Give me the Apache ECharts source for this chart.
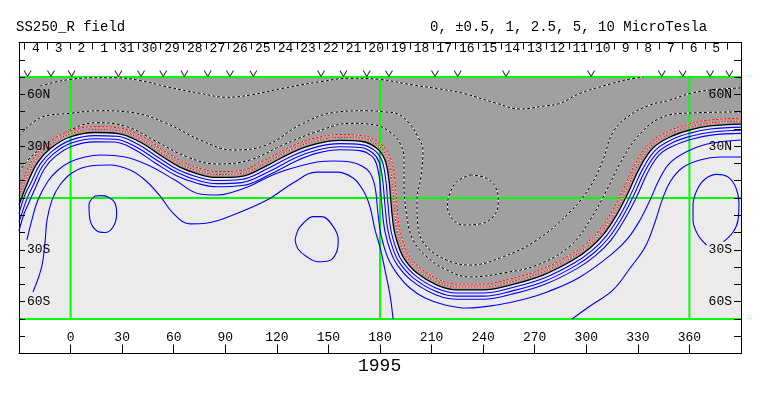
<!DOCTYPE html>
<html lang="en">
<head>
<meta charset="UTF-8">
<title>SS250_R field</title>
<script src="https://cdn.jsdelivr.net/npm/echarts@6/dist/echarts.min.js"></script>
<style>html,body{margin:0;background:#fff}</style>
</head>
<body>
<div id="main" style="width:763px;height:396px"></div>
<script>
// plot bounds (carrington longitude, latitude)
var lonMin = -30, lonMax = 390, latMin = -70, latMax = 70;
var gridLons = [0, 180, 360];
var gridLats = [-70, 0, 70];

// day strip along the top (Nov 4 .. Oct 5, decreasing to the right)
var dayLabels = [4, 3, 2, 1, 31, 30, 29, 28, 27, 26, 25, 24, 23, 22, 21, 20, 19, 18, 17, 16, 15, 14, 13, 12, 11, 10, 9, 8, 7, 6, 5];
var dayStart = -20.1, dayStep = 13.19;

// observation marks
var vLons = [-25.0, -11.4, 0.6, 27.8, 41.0, 53.9, 66.2, 79.8, 92.7, 106.3, 145.7, 158.7, 172.3, 185.2, 212.0, 225.2, 253.3, 302.8, 343.9, 356.1, 372.0, 383.2];
var vLat = 72.1;

// neutral line (0)
var neutralLine = [[-30,-4.1],[-24.8,9.3],[-19.0,20.8],[-11.4,28.9],[-0.3,35.3],[14.2,37.9],[27.6,37.3],[40.4,32.4],[52.0,24.9],[63.6,17.9],[75.3,13.6],[85.2,11.9],[98.6,12.4],[113.7,18.5],[129.4,26.6],[142.8,31.3],[156.7,33.3],[169.5,32.7],[178.3,28.7],[182.9,22.0],[185.2,10.4],[186.4,-2.9],[188.2,-18.5],[191.6,-30.1],[194.6,-35.9],[201.5,-43.4],[213.2,-50.4],[224.8,-53.2],[239.9,-53.2],[255.6,-50.4],[274.8,-44.6],[292.3,-35.9],[302.2,-28.9],[310.3,-20.8],[317.9,-9.3],[324.3,2.9],[331.3,17.9],[338.8,28.9],[348.7,35.3],[360.4,39.4],[372.0,41.7],[390,42.8]];

// red contours on the negative side
var redInner = [[-30,1.5],[-26.3,10.1],[-20.2,22.0],[-12.3,30.4],[-0.6,37.0],[14.2,39.6],[28.3,38.9],[41.3,33.8],[52.9,26.4],[64.2,19.5],[75.7,15.3],[85.2,13.6],[98.2,14.1],[113.0,20.1],[128.7,28.2],[142.4,33.0],[156.7,35.0],[169.9,34.4],[179.4,30.0],[184.5,22.6],[186.9,10.6],[188.1,-2.7],[189.9,-18.2],[193.2,-29.5],[196.0,-34.9],[202.6,-42.1],[213.9,-48.8],[225.0,-51.5],[239.7,-51.5],[255.2,-48.7],[274.2,-43.0],[291.5,-34.4],[301.1,-27.6],[309.0,-19.7],[316.4,-8.5],[322.8,3.6],[329.8,18.7],[337.6,30.1],[348.0,36.8],[360.0,41.0],[371.8,43.4],[390,44.5]];
var redOuter = [[-30,5.5],[-27.8,10.8],[-21.5,23.1],[-13.1,31.9],[-1.0,38.6],[14.2,41.3],[29.0,40.4],[42.3,35.3],[53.7,27.8],[64.9,21.1],[76.1,16.9],[85.2,15.3],[97.8,15.7],[112.3,21.6],[128.0,29.7],[142.0,34.6],[156.7,36.7],[170.3,36.0],[180.4,31.3],[186.1,23.2],[188.6,10.9],[189.8,-2.6],[191.5,-17.9],[194.8,-28.9],[197.3,-33.9],[203.6,-40.7],[214.5,-47.3],[225.1,-49.8],[239.6,-49.8],[254.8,-47.1],[273.5,-41.4],[290.6,-32.9],[300.0,-26.3],[307.6,-18.7],[315.0,-7.6],[321.2,4.4],[328.3,19.6],[336.4,31.3],[347.2,38.4],[359.5,42.7],[371.6,45.1],[390,46.2]];

// blue (positive) contours
var blue1 = [[-30,-9],[-26.5,2],[-23.2,8.5],[-17.7,19.6],[-10.5,27.3],[0.1,33.5],[14.2,36.1],[26.9,35.7],[39.4,30.9],[51.1,23.4],[62.9,16.2],[74.9,11.9],[85.2,10.1],[99.0,10.7],[114.4,16.9],[130.1,24.9],[143.2,29.6],[156.7,31.5],[169.1,30.9],[177.2,27.3],[181.2,21.4],[183.4,10.2],[184.6,-3.1],[186.4,-18.8],[189.9,-30.7],[193.2,-37.0],[200.4,-44.8],[212.5,-52.1],[224.6,-55.0],[240.1,-55.0],[256.0,-52.1],[275.5,-46.3],[293.2,-37.5],[303.4,-30.3],[311.7,-21.9],[319.5,-10.2],[325.9,2.1],[332.9,17.0],[340.1,27.6],[349.5,33.7],[360.9,37.7],[372.2,39.9],[390,41.0]];
var blue2 = [[-30,-14],[-25,0.5],[-21.6,7.7],[-16.4,18.4],[-9.6,25.8],[0.4,31.8],[14.2,34.3],[26.1,34.0],[38.4,29.4],[50.2,21.8],[62.3,14.6],[74.4,10.1],[85.2,8.3],[99.4,8.9],[115.2,15.2],[130.8,23.3],[143.7,27.8],[156.7,29.7],[168.7,29.2],[176.0,25.9],[179.5,20.7],[181.6,9.9],[182.8,-3.3],[184.7,-19.2],[188.2,-31.3],[191.7,-38.0],[199.3,-46.2],[211.8,-53.7],[224.4,-56.8],[240.3,-56.8],[256.5,-53.9],[276.1,-48.0],[294.1,-39.0],[304.5,-31.7],[313.1,-23.0],[321.0,-11.1],[327.5,1.3],[334.4,16.1],[341.4,26.3],[350.3,32.1],[361.3,35.9],[372.4,38.1],[390,39.2]];
var blue3 = [[-30,-19],[-27,-9],[-23.5,-1],[-20.0,6.9],[-15.1,17.1],[-8.7,24.2],[0.8,30.0],[14.2,32.5],[25.4,32.4],[37.4,27.9],[49.2,20.3],[61.6,12.9],[74.0,8.4],[85.2,6.5],[99.8,7.2],[115.9,13.6],[131.6,21.6],[144.1,26.1],[156.7,27.9],[168.3,27.4],[174.9,24.5],[177.8,20.1],[179.9,9.6],[181.0,-3.4],[182.9,-19.5],[186.5,-31.9],[190.3,-39.1],[198.2,-47.7],[211.1,-55.4],[224.3,-58.6],[240.4,-58.6],[256.9,-55.6],[276.8,-49.6],[295.0,-40.6],[305.7,-33.1],[314.5,-24.2],[322.5,-12.0],[329.2,0.5],[336.0,15.3],[342.6,25.1],[351.1,30.4],[361.8,34.2],[372.6,36.4],[390,37.4]];
var blueWide = [[-25.4,-24.3],[-22.5,-12.7],[-19.0,-1.2],[-13.1,9.8],[-7.3,16.2],[-0.3,20.8],[8.4,23.7],[17.1,24.9],[31.7,23.7],[46.2,18.5],[60.7,10.4],[75.3,2.3],[85.2,1.7],[94.5,3.5],[104.4,6.9],[113.7,11.6],[123.6,15.6],[133.5,18.5],[143.4,20.8],[152.7,21.4],[162.6,20.8],[169.5,18.5],[174.2,14.5],[177.1,6.4],[178.8,-8.7],[180.6,-21.4],[184.6,-34.7],[190.5,-44.6],[197.4,-52.1],[206.2,-57.9],[217.8,-61.9],[230.6,-63.7],[248.1,-61.9],[264.4,-58.5],[277.2,-54.4],[296.4,-45.7],[315.6,-31.8],[324.3,-23.2],[331.3,-12.7],[337.1,-1.2],[342.3,10.4],[348.7,20.3],[359.2,27.2],[370.3,31.3],[390,33.6]];
var blueDip = [[-21.9,-54.4],[-16.8,-39.8],[-14.9,-26.0],[-13.7,-12.7],[-10.8,-1.2],[-6.2,7.5],[0.8,14.5],[11.3,18.5],[22.9,19.1],[34.6,16.2],[43.3,10.4],[52.0,1.2],[59.6,-8.7],[69.5,-15.0],[79.4,-14.5],[94.5,-9.8],[114.3,-1.2],[129.4,8.7],[143.4,15.0],[155.0,15.0],[164.3,11.6],[170.1,4.6],[174.2,-5.2],[177.1,-18.5],[180.0,-28.4],[182.9,-41.7],[185.8,-56.1],[187.6,-70]];
var blueTail = [[291.7,-70],[302.2,-62.5],[315.6,-53.2],[325.5,-40.5],[334.2,-28.4],[340.0,-13.9],[344.1,-1.2],[348.7,9.3],[355.7,17.4],[366.1,22.0],[377.7,23.7],[390,23.7]];
var ovalLeft = [[14.2,1.2],[10.7,-4.1],[11.3,-12.7],[15.4,-19.1],[20.0,-20.0],[24.7,-16.8],[26.8,-9.3],[25.8,-2.9],[21.8,0.6],[17.7,1.4],[14.2,1.2]];
var ovalMid = [[130.6,-24.3],[132.3,-18.5],[135.4,-14.6],[141.2,-10.8],[146.1,-10.8],[152.8,-16.6],[155.7,-24.3],[154.8,-31.1],[149.9,-36.5],[144.1,-36.9],[137.4,-34.0],[132.3,-29.5],[130.6,-24.3]];
var ovalRight = [[370.0,-27.2],[365.0,-21.4],[362.1,-12.7],[362.1,-4.1],[364.4,4.6],[369.1,11.0],[375.9,13.7],[382.4,12.2],[387.1,5.8],[388.8,-2.9],[388.3,-12.7],[385.4,-19.7],[379.8,-25.3]];

// black dashed (negative) contours
var negTop = [[-17.8,64.8],[-9.1,67.1],[-0.3,68.6],[11.3,69.6],[25.8,69.6],[40.4,68.0],[55.9,64.4],[75.3,60.6],[90.8,58.3],[104.5,59.6],[123.6,63.5],[145.1,67.3],[162.6,69.3],[180.0,68.6],[199.2,65.4],[214.9,63.1],[228.3,60.6],[247.9,54.8],[261.5,51.5],[276.0,53.3],[284.7,54.8],[296.4,60.6],[311.9,65.4],[322.7,68.3],[333.2,70]];
var negMid = [[-30,35.9],[-17.8,46.3],[-0.3,49.0],[17.1,50.5],[36.3,49.4],[55.9,43.2],[75.3,33.6],[94.5,27.8],[114.1,30.7],[133.5,42.3],[152.7,49.4],[172.3,50.5],[182.9,49.8],[190.5,48.6],[197.4,42.8],[202.1,35.3],[205.0,27.8],[203.8,12.2],[201.5,-1.2],[202.1,-16.8],[207.2,-28.2],[218.8,-35.9],[232.4,-38.8],[251.7,-34.0],[271.2,-24.3],[290.5,-8.1],[302.2,6.4],[309.7,22.0],[315.6,38.2],[325.5,48.0],[337.1,53.8],[348.7,56.7],[360.4,60.5],[372.0,62.5],[390,63.7]];
var negNear = [[-30,15.0],[-23.6,23.2],[-15.9,29.7],[-2.3,38.4],[15.2,43.6],[32.6,41.3],[50.1,32.6],[67.5,23.9],[85.0,19.7],[104.3,22.0],[123.6,30.7],[143.2,38.4],[162.6,43.2],[177.1,42.3],[185.8,38.2],[191.6,31.8],[194.0,22.0],[194.0,8.7],[195.7,-11.0],[199.2,-24.3],[207.3,-34.1],[218.9,-41.7],[232.4,-45.7],[251.6,-43.4],[271.4,-38.8],[290.6,-27.8],[302.2,-12.7],[311.9,4.6],[319.8,20.3],[329.7,35.3],[343.1,46.3],[360.4,49.2],[390,49.8]];
var negOval = [[232.4,13.3],[242.1,11.4],[247.9,4.6],[248.8,-3.1],[245.9,-10.8],[238.2,-15.0],[228.5,-15.6],[221.7,-11.7],[219.2,-4.1],[220.7,2.7],[224.6,9.4],[232.4,13.3]];

var font = 'Liberation Mono';
var dayCenters = dayLabels.map(function (d, i) { return dayStart + i * dayStep; });
var dayEdges = dayCenters.map(function (c) { return c - dayStep / 2; });
dayEdges.push(dayCenters[dayCenters.length - 1] + dayStep / 2);

function lineOf(data, color, width, dash, z) {
    return {
        type: 'line', data: data, smooth: 0.4, symbol: 'none', silent: true, z: z || 4,
        lineStyle: { color: color, width: width, type: dash || 'solid' }
    };
}
// dashed contour drawn over a white line
function dashedOf(data, color, dash) {
    return [lineOf(data, '#ffffff', 1), lineOf(data, color, 1, dash)];
}

var series = [
    {
        type: 'custom', z: 1, silent: true, data: [[0, 0]],
        renderItem: function (params, api) {
            var a = api.coord([lonMin, latMax]), b = api.coord([lonMax, latMin]);
            return { type: 'rect', shape: { x: a[0], y: a[1], width: b[0] - a[0], height: b[1] - a[1] }, style: { fill: '#ebebeb' } };
        }
    },
    {
        type: 'line', z: 2, silent: true, data: neutralLine, smooth: 0.4, symbol: 'none',
        lineStyle: { opacity: 0 },
        areaStyle: { color: '#a0a0a0', opacity: 1, origin: 'end' }
    },
    {
        type: 'custom', z: 3, silent: true, data: [[0, 0]],
        renderItem: function (params, api) {
            var a = api.coord([lonMin, 90]), b = api.coord([lonMax, latMax]);
            var kids = [{ type: 'rect', shape: { x: a[0], y: a[1], width: b[0] - a[0], height: b[1] - a[1] }, style: { fill: '#ffffff' } }];
            gridLats.forEach(function (lat) {
                var p = api.coord([lonMin, lat]), q = api.coord([lonMax, lat]);
                kids.push({ type: 'line', shape: { x1: p[0], y1: p[1], x2: q[0], y2: q[1] }, style: { stroke: '#00ff00', lineWidth: 2 } });
            });
            gridLons.forEach(function (lon) {
                var p = api.coord([lon, latMin]), q = api.coord([lon, latMax]);
                kids.push({ type: 'line', shape: { x1: p[0], y1: p[1], x2: q[0], y2: q[1] }, style: { stroke: '#00ff00', lineWidth: 2 } });
            });
            return { type: 'group', children: kids };
        }
    }
];

[negTop, negMid, negNear, negOval].forEach(function (d) {
    series = series.concat(dashedOf(d, '#000000', [3, 2]));
});
series = series.concat(dashedOf(redOuter, '#ff0000', [3, 1]));
series = series.concat(dashedOf(redInner, '#ff0000', [2, 1]));
[blue1, blue2, blue3, blueWide, blueDip, blueTail, ovalLeft, ovalMid, ovalRight].forEach(function (d) {
    series.push(lineOf(d, '#0000ff', 1.1));
});
series.push(lineOf(neutralLine, '#000000', 1.3, 'solid', 5));
series.push({
    type: 'scatter', z: 6, silent: true,
    data: vLons.map(function (l) { return [l, vLat]; }),
    symbol: 'path://M0,0L4,8L8,0', symbolSize: [7, 6],
    itemStyle: { color: 'transparent', borderColor: '#000', borderWidth: 1 }
});

function latFmt(v) {
    var m = { '60': '60N', '30': '30N', '-30': '30S', '-60': '60S' };
    return m[String(v)] || '';
}
var labelBase = { color: '#000', fontFamily: font, fontSize: 13 };

var chart = echarts.init(document.getElementById('main'));
chart.setOption({
    animation: false,
    backgroundColor: '#ffffff',
    grid: { left: 19, right: 22, top: 42.5, bottom: 42.5, containLabel: false, outerBoundsMode: 'none' },
    xAxis: [{
        type: 'value', min: lonMin, max: lonMax, interval: 30, position: 'bottom', z: 10,
        axisLine: { show: true, onZero: false, lineStyle: { color: '#000', width: 1 } },
        axisTick: { show: true, inside: true, length: 9, lineStyle: { color: '#000' } },
        axisLabel: Object.assign({ inside: true, margin: 9, formatter: function (v) { return (v < 0 || v > 360) ? '' : String(v); } }, labelBase),
        splitLine: { show: false }
    }, {
        type: 'value', min: lonMin, max: lonMax, position: 'top', z: 10,
        axisLine: { show: true, onZero: false, lineStyle: { color: '#000', width: 1 } },
        axisTick: { show: true, inside: true, length: 7, customValues: dayEdges, lineStyle: { color: '#000' } },
        axisLabel: Object.assign({
            inside: true, margin: 0, customValues: dayCenters,
            formatter: function (v) { return String(dayLabels[Math.round((v - dayStart) / dayStep)]); }
        }, labelBase),
        splitLine: { show: false }
    }],
    yAxis: [{
        type: 'value', min: -90, max: 90, interval: 10, position: 'left', z: 10,
        axisLine: { show: true, onZero: false, lineStyle: { color: '#000', width: 1 } },
        axisTick: { show: true, inside: true, length: 6, lineStyle: { color: '#000' } },
        axisLabel: Object.assign({ inside: true, margin: 8, formatter: latFmt }, labelBase),
        splitLine: { show: false }
    }, {
        type: 'value', min: -90, max: 90, interval: 10, position: 'right', z: 10,
        axisLine: { show: true, onZero: false, lineStyle: { color: '#000', width: 1 } },
        axisTick: { show: true, inside: true, length: 7, lineStyle: { color: '#000' } },
        axisLabel: Object.assign({ inside: true, margin: 9, formatter: latFmt }, labelBase),
        splitLine: { show: false }
    }],
    graphic: [
        { type: 'text', left: 16, top: 20, style: { text: 'SS250_R field', font: '14px "Liberation Mono"', fill: '#000' } },
        { type: 'text', left: 430, top: 20, style: { text: '0, ±0.5, 1, 2.5, 5, 10 MicroTesla', font: '14px "Liberation Mono"', fill: '#000' } },
        { type: 'text', left: 467, top: 56, style: { text: 'OCT 2002', font: '14px "Liberation Mono"', fill: '#000' } },
        { type: 'text', left: 358, top: 357, style: { text: '1995', font: '18px "Liberation Mono"', fill: '#000' } }
    ],
    series: series
});
</script>
</body>
</html>
